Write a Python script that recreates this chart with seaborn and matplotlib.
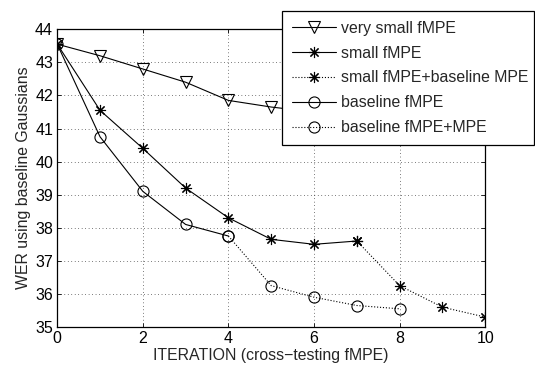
import numpy as np
import matplotlib
matplotlib.use("Agg")
import matplotlib.pyplot as plt
import seaborn as sns

# ----- data -----
it_vsmall = [0, 1, 2, 3, 4, 5, 6]
wer_vsmall = [43.55, 43.2, 42.8, 42.4, 41.85, 41.65, 41.5]

it_small = [0, 1, 2, 3, 4, 5, 6, 7]
wer_small = [43.55, 41.55, 40.4, 39.2, 38.3, 37.65, 37.5, 37.6]

it_small_mpe = [7, 8, 9, 10]
wer_small_mpe = [37.6, 36.25, 35.6, 35.3]

it_base = [0, 1, 2, 3, 4]
wer_base = [43.55, 40.75, 39.1, 38.1, 37.75]

it_base_mpe = [4, 5, 6, 7, 8]
wer_base_mpe = [37.75, 36.25, 35.9, 35.65, 35.55]

labels = ["very small fMPE", "small fMPE", "small fMPE+baseline MPE",
          "baseline fMPE", "baseline fMPE+MPE"]
x_ticks = [0, 2, 4, 6, 8, 10]
y_ticks = [35, 36, 37, 38, 39, 40, 41, 42, 43, 44]

sns.set_theme(style="white")
plt.rcParams["font.family"] = ["Liberation Sans", "DejaVu Sans"]
plt.rcParams["font.size"] = 11

fig = plt.figure(figsize=(5.35, 3.69), dpi=100)
ax = fig.add_axes([0.107, 0.1138, 0.8, 0.8068])

star = (8, 2, 0)
series = [
    (it_vsmall, wer_vsmall, "v", "-", 8),
    (it_small, wer_small, star, "-", 8),
    (it_small_mpe, wer_small_mpe, star, ":", 8),
    (it_base, wer_base, "o", "-", 8),
    (it_base_mpe, wer_base_mpe, "o", ":", 8),
]
for (xs, ys, mk, ls, ms), lab in zip(series, labels):
    sns.lineplot(x=xs, y=ys, ax=ax, color="black", linestyle=ls, linewidth=0.8,
                 marker=mk, markersize=ms, markerfacecolor="none",
                 markeredgecolor="black", markeredgewidth=0.8, label=lab)

ax.set_xlim(0, 10)
ax.set_ylim(35, 44)
ax.set_xticks(x_ticks)
ax.set_yticks(y_ticks)
ax.grid(True, color="black", linestyle=(0, (1, 4)), linewidth=0.5)
ax.tick_params(direction="in", length=3, width=0.6, top=True, right=True,
               bottom=True, left=True, labelsize=11.5, colors="black", pad=3)
for sp in ax.spines.values():
    sp.set_color("black")
    sp.set_linewidth(0.9)

ax.set_xlabel("ITERATION (cross\u2212testing fMPE)", fontsize=11.4, labelpad=1)
ax.set_ylabel("WER using baseline Gaussians", fontsize=11.4, labelpad=3)

leg = ax.legend(loc="upper left", bbox_to_anchor=(0.525, 0.6046, 0.5896, 0.4569),
                mode="expand", frameon=True, fancybox=False, framealpha=1,
                edgecolor="black", fontsize=11.4, handlelength=2.8,
                labelspacing=0.62, borderpad=0.62, handletextpad=0.3,
                borderaxespad=0)
leg.get_frame().set_linewidth(0.9)
leg.set_zorder(10)

fig.savefig("out.png", dpi=100)
